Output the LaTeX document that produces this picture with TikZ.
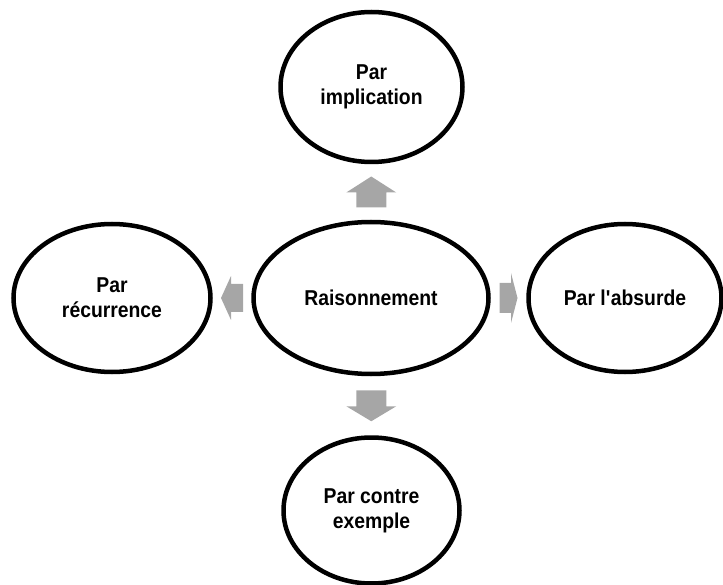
\documentclass[tikz,border=0pt]{standalone}
\usepackage{fontspec}
\setmainfont{Liberation Sans}[FakeStretch=0.9]
\usetikzlibrary{shapes.geometric,calc}

\definecolor{gris}{RGB}{166,166,166}
\tikzset{
  bulle/.style={ellipse,draw,line width=4.5pt,inner sep=0pt,align=center,
    font=\fontsize{21.5}{25}\selectfont\bfseries},
  fleche/.style={fill=gris,draw=none}
}

\begin{document}
\begin{tikzpicture}[x=1pt,y=-1pt]
      \useasboundingbox (0,0) rectangle (723,585);

      % Les bulles
      \node[bulle,minimum width=235pt,minimum height=152pt] (Rais) at (371,298) {Raisonnement};
      \node[bulle,minimum width=182pt,minimum height=150pt] (Impl) at (371.5,87) {Par\\implication};
      \node[bulle,minimum width=197pt,minimum height=148pt] (Rec) at (112,298) {Par\\récurrence};
      \node[bulle,minimum width=193pt,minimum height=148pt] (Abs) at (625,298) {Par l\textquotesingle absurde};
      \node[bulle,minimum width=176pt,minimum height=146pt] (Ctr) at (371.5,510.5) {Par contre\\exemple};

      % Points d'ancrage des flèches
      \coordinate (Fl_H) at ($(Rais.north)!0.5!(Impl.south)$);
      \coordinate (Fl_B) at ($(Rais.south)!0.5!(Ctr.north)$);
      \coordinate (Fl_G) at ($(Rais.west)!0.5!(Rec.east)$);
      \coordinate (Fl_D) at ($(Rais.east)!0.5!(Abs.west)$);

      % Les flèches
      \fill[fleche,shift={(Fl_H)}] (-15,15.5) -- (-15,0.5) -- (-25,0.5) -- (0,-15.5)
        -- (25,0.5) -- (15,0.5) -- (15,15.5) -- cycle;
      \fill[fleche,shift={(Fl_B)}] (-15,-15.5) -- (-15,0.5) -- (-25,0.5) -- (0,15.5)
        -- (25,0.5) -- (15,0.5) -- (15,-15.5) -- cycle;
      \fill[fleche,shift={(Fl_G)}] (11,-14) -- (-1,-14) -- (-1,-22) -- (-11,0)
        -- (-1,22) -- (-1,14) -- (11,14) -- cycle;
      \fill[fleche,shift={(Fl_D)}] (-9,-15) -- (2.5,-15) -- (2.5,-25) -- (9,0)
        -- (2.5,25) -- (2.5,15) -- (-9,15) -- cycle;
\end{tikzpicture}
\end{document}
